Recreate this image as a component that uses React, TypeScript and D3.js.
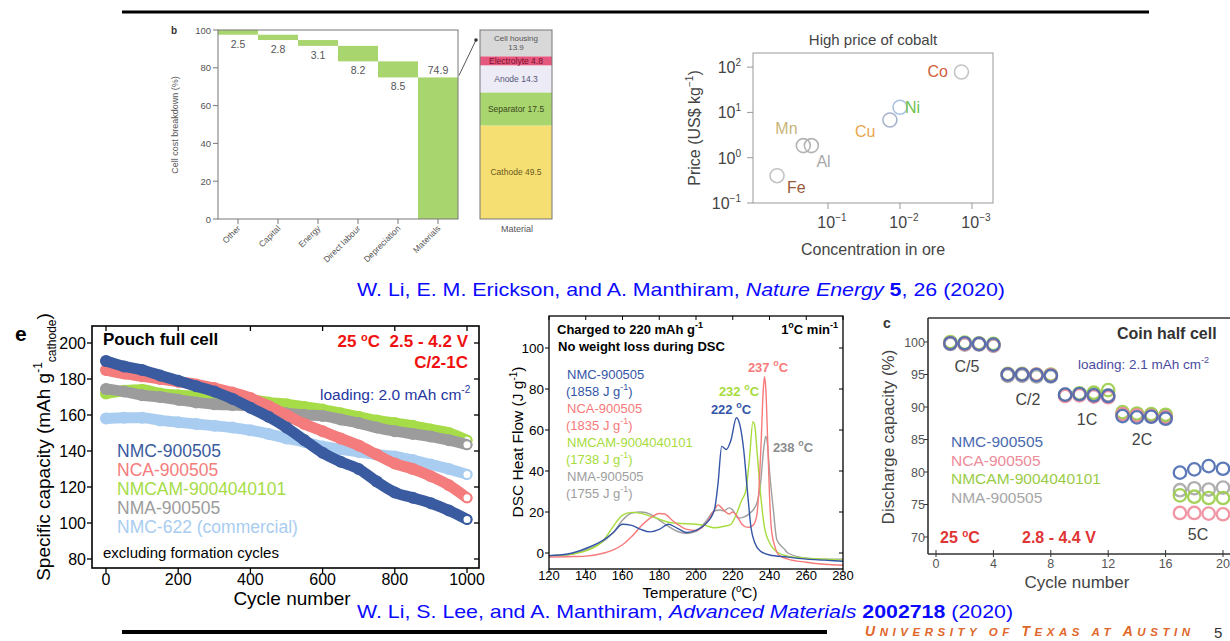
import React from 'react'
import * as d3 from 'd3'

const FONT = 'Liberation Sans, Arial, sans-serif'

// panel b: cell cost breakdown (waterfall) + material split
const costCategories = ['Other', 'Capital', 'Energy', 'Direct labour', 'Depreciation', 'Materials']
const costValues = [2.5, 2.8, 3.1, 8.2, 8.5, 74.9]
const costTicks = [0, 20, 40, 60, 80, 100]
const materialParts = ['Cathode', 'Separator', 'Anode', 'Electrolyte', 'Cell housing']
const materialValues = [49.5, 17.5, 14.3, 4.8, 13.9]

// high price of cobalt
const elements = ['Fe', 'Mn', 'Al', 'Cu', 'Ni', 'Co']
const oreConcentration = [0.51, 0.22, 0.17, 0.0138, 0.01, 0.0014]
const elementPrice = [0.4, 1.85, 1.85, 6.8, 13, 78]
const priceTickExp = [-1, 0, 1, 2]
const concTickExp = [-1, -2, -3]

// panel e: pouch full cell cycling
const pouchCycles = [0, 50, 100, 150, 200, 250, 300, 350, 400, 450, 500, 550, 600, 650, 700, 750, 800, 850, 900, 950, 1000]
const pouchNames = ['NMC-900505', 'NCA-900505', 'NMCAM-9004040101', 'NMA-900505', 'NMC-622 (commercial)']
const pouchNMC = [190, 187, 185, 182, 179, 176, 173, 169, 164, 159, 153, 146, 139, 134, 130, 123, 117, 114, 111, 107, 102]
const pouchNCA = [185, 183, 181.5, 180, 178.5, 177, 175, 172.5, 169.5, 165, 160, 155, 151, 147, 143, 138, 133, 130, 126, 121, 114]
const pouchNMCAM = [172, 173.5, 174, 172, 171, 170.5, 170, 169.5, 168.5, 167, 166, 164.5, 163, 161, 159, 157, 155.5, 154, 152, 150, 146]
const pouchNMA = [174.5, 173, 171, 170, 168.5, 167, 166, 165.5, 165, 163, 161, 160, 159.5, 157.5, 155.5, 153, 151, 149.5, 148, 146, 143.5]
const pouchNMC622 = [158, 158.5, 158.5, 157, 156, 155, 154, 153, 151.5, 149.5, 147, 145, 142.5, 141, 139.5, 138, 137, 135, 132.5, 130, 127]
const pouchXTicks = [0, 200, 400, 600, 800, 1000]
const pouchYTicks = [80, 100, 120, 140, 160, 180, 200]

// DSC heat flow, [temperature, J/g]
const dscNMC = [[120, -1.3], [130, -0.5], [140, 2.2], [150, 6.5], [155, 10], [160, 14], [165, 13.5], [170, 11.5], [175, 10.3], [180, 11.5], [185, 14], [190, 12], [195, 10], [200, 11], [205, 14], [210, 21], [212, 34], [214, 52], [216.5, 50.5], [219, 55], [222, 66], [224, 62], [226, 50], [228, 30], [230, 12], [232, 5], [235, 1], [240, -1], [250, -2], [260, -3], [270, -3.5], [280, -4]]
const dscNCA = [[120, -2], [130, -1.8], [140, -1.5], [150, 0], [155, 1.5], [160, 4], [165, 8], [170, 13], [175, 17], [180, 19.3], [183, 19], [187, 16], [190, 14], [195, 11.5], [200, 11], [205, 14], [210, 21], [212, 23.5], [215, 21], [218, 19], [220, 20], [222, 18.5], [225, 14], [228, 12.5], [231, 13.5], [233, 18], [234.5, 35], [235.5, 55], [236.5, 78], [237.3, 86], [238, 80], [239, 55], [240, 28], [241, 12], [243, 3], [245, -1], [250, -3], [260, -4.5], [270, -5.5], [280, -6]]
const dscNMCAM = [[120, -1.3], [130, -0.8], [140, 1], [150, 6.5], [155, 13], [160, 18.5], [165, 19.8], [170, 19.3], [175, 18], [180, 16.5], [185, 15], [190, 14.5], [200, 14], [205, 13.5], [210, 12.3], [215, 13], [219, 14], [222, 19], [225, 26], [227, 30], [229, 45], [231, 64], [232, 62], [233, 52], [235, 30], [237, 14], [240, 5], [245, 0], [250, -1.5], [260, -2.5], [270, -3], [280, -3.5]]
const dscNMA = [[120, -1.5], [130, -1], [140, 1.5], [150, 6], [155, 10], [160, 16], [165, 19.5], [170, 20], [175, 19], [180, 16], [185, 13], [190, 10.5], [195, 9.5], [200, 10.5], [205, 15], [210, 20.5], [213, 21], [215, 20.5], [218, 22], [220, 21], [223, 17], [226, 17.5], [230, 20], [233, 24], [235, 33], [237, 52], [238, 57], [239, 52], [240, 40], [242, 22], [244, 6.5], [248, 2], [250, 0], [260, -2.5], [270, -3], [280, -3]]
const dscNames = ['NMC-900505', 'NCA-900505', 'NMCAM-9004040101', 'NMA-900505']
const dscEnergy = ['1858', '1835', '1738', '1755']
const dscXTicks = [120, 140, 160, 180, 200, 220, 240, 260, 280]
const dscYTicks = [0, 20, 40, 60, 80, 100]

// panel c: coin half cell rate capability
const coinCycles = [1, 2, 3, 4, 5, 6, 7, 8, 9, 10, 11, 12, 13, 14, 15, 16, 17, 18, 19, 20]
const coinNMC = [99.8, 99.8, 99.7, 99.6, 95, 95, 94.9, 94.8, 91.9, 92, 91.8, 91.7, 88.6, 88.4, 88.5, 88.2, 79.9, 80.4, 80.9, 80.5]
const coinNCA = [99.8, 99.7, 99.7, 99.5, 95, 95, 95, 94.9, 91.7, 91.8, 91.6, 91.5, 88.9, 88.7, 88.6, 88.4, 73.7, 73.7, 73.6, 73.5]
const coinNMCAM = [100, 99.9, 99.8, 99.7, 95.1, 95.1, 95, 95, 91.8, 92.1, 92.2, 92.6, 89.2, 89, 88.9, 88.8, 76.4, 76.2, 76, 76]
const coinNMA = [99.7, 99.6, 99.6, 99.4, 94.8, 94.8, 94.7, 94.7, 91.9, 91.9, 92, 91.8, 88.9, 88.8, 88.8, 88.6, 77.2, 77.5, 77.3, 77.6]
const coinRates = ['C/5', 'C/2', '1C', '2C', '5C']
const coinXTicks = [0, 4, 8, 12, 16, 20]
const coinYTicks = [70, 75, 80, 85, 90, 95, 100]

const MATERIAL_COLORS = ['#f6df72', '#a9d56f', '#ecebf6', '#e5577c', '#d8d8d8']
const ELEMENT_TEXT = ['#9a5a3a', '#c9b57a', '#a9a9a9', '#e8a64e', '#6fbf4e', '#d2603c']
const ELEMENT_RING = ['#c4c4c4', '#b4b4b4', '#b4b4b4', '#a9b2cc', '#a8c2e2', '#c4c4c4']
const ELEMENT_LABEL_OFFSET = [[10, 17], [-28, -12], [5, 21], [-35, 17], [5, 6], [-34, 5]]
const POUCH_COLORS = ['#3a5ba0', '#f47c7c', '#a6dc48', '#9c9c9c', '#a9cdf0']
const DSC_COLORS = ['#3556a6', '#f77a7a', '#a6dc3c', '#9e9e9e']
const COIN_COLORS = ['#4a6ab0', '#ee8b9a', '#9acc48', '#a6a6a6']

function CostBreakdown() {
  const x = d3.scaleBand().domain(costCategories).range([218, 458]).padding(0)
  const y = d3.scaleLinear().domain([0, 100]).range([219, 30])
  let top = 100
  const bars = costValues.map((v, i) => {
    const hi = top
    const lo = Math.max(0, top - v)
    top -= v
    return { cat: costCategories[i], hi, lo, v, last: i === costValues.length - 1 }
  })
  const mx = d3.scaleBand().domain(['Material']).range([480, 552])
  let acc = 0
  const parts = materialValues.map((v, i) => {
    const lo = acc
    acc += v
    return { name: materialParts[i], lo, hi: acc, v, color: MATERIAL_COLORS[i] }
  })
  const partLabelColor = ['#6a5a20', '#3a4a20', '#555577', '#7a1030', '#555']
  return (
    <g fill="#555">
      <text x={171} y={34} fontSize={10} fontWeight="bold" fill="#333">b</text>
      {bars.map((b) => (
        <rect key={b.cat} x={x(b.cat)} width={x.bandwidth()} y={y(b.hi)} height={Math.max(1.5, y(b.lo) - y(b.hi))} fill="#a9d56f" />
      ))}
      {bars.map((b) => (
        <text key={b.cat} x={x(b.cat) + x.bandwidth() / 2} y={b.last ? y(b.hi) - 3 : y(b.lo) + 13} fontSize={10.5} textAnchor="middle" fill="#555">{b.v}</text>
      ))}
      <rect x={218} y={30} width={240} height={189} fill="none" stroke="#777" strokeWidth={1} />
      {costTicks.map((t) => (
        <g key={t}>
          <line x1={213} x2={218} y1={y(t)} y2={y(t)} stroke="#777" />
          <text x={211} y={y(t) + 3.5} fontSize={9.5} textAnchor="end">{t}</text>
        </g>
      ))}
      {costCategories.map((c) => {
        const cx = x(c) + x.bandwidth() / 2
        return (
          <g key={c}>
            <line x1={cx} x2={cx} y1={219} y2={224} stroke="#777" />
            <text transform={`translate(${cx + 3},${229}) rotate(-45)`} fontSize={8.5} textAnchor="end">{c}</text>
          </g>
        )
      })}
      <text transform="translate(178,125) rotate(-90)" fontSize={9} textAnchor="middle">Cell cost breakdown (%)</text>
      {parts.map((p) => (
        <rect key={p.name} x={mx('Material')} width={mx.bandwidth()} y={y(p.hi)} height={y(p.lo) - y(p.hi)} fill={p.color} />
      ))}
      <rect x={480} y={30} width={72} height={189} fill="none" stroke="#777" />
      {parts.map((p, i) => {
        const cy = (y(p.lo) + y(p.hi)) / 2
        if (p.name === 'Cell housing') {
          return (
            <text key={p.name} x={516} y={cy - 2} fontSize={8} textAnchor="middle" fill={partLabelColor[i]}>
              Cell housing<tspan x={516} dy={8.5}>{p.v}</tspan>
            </text>
          )
        }
        return (
          <text key={p.name} x={516} y={cy + 3} fontSize={8.5} textAnchor="middle" fill={partLabelColor[i]}>{`${p.name} ${p.v}`}</text>
        )
      })}
      <line x1={459} y1={y(74.9) - 2} x2={476} y2={40} stroke="#555" strokeWidth={1} />
      <circle cx={476} cy={40} r={1.8} fill="#333" />
      <text x={517} y={232} fontSize={9} textAnchor="middle">Material</text>
    </g>
  )
}

function CobaltPrice() {
  const x = d3.scaleLog().domain([1.1, 5.1e-4]).range([753, 993])
  const y = d3.scaleLog().domain([0.1, 205]).range([203, 53])
  return (
    <g fill="#444">
      <text x={873} y={45} fontSize={15} textAnchor="middle" fill="#444">High price of cobalt</text>
      <rect x={753} y={53} width={240} height={150} fill="none" stroke="#999" />
      {priceTickExp.map((e) => (
        <g key={e}>
          <line x1={747} x2={753} y1={y(10 ** e)} y2={y(10 ** e)} stroke="#999" />
          <text x={741} y={y(10 ** e) + 6} fontSize={16} textAnchor="end">
            10<tspan dy={-7} fontSize={10}>{e < 0 ? `\u2212${-e}` : e}</tspan>
          </text>
        </g>
      ))}
      {concTickExp.map((e) => (
        <g key={e}>
          <line x1={x(10 ** e)} x2={x(10 ** e)} y1={203} y2={209} stroke="#999" />
          <text x={x(10 ** e) + 4} y={228} fontSize={16} textAnchor="middle">
            10<tspan dy={-7} fontSize={10}>{`\u2212${-e}`}</tspan>
          </text>
        </g>
      ))}
      <text x={873} y={255} fontSize={16} textAnchor="middle">Concentration in ore</text>
      <text transform="translate(700,128) rotate(-90)" fontSize={16} textAnchor="middle">
        Price (US$ kg<tspan dy={-7} fontSize={10}>{'\u22121'}</tspan><tspan dy={7}>)</tspan>
      </text>
      {elements.map((el, i) => {
        const px = x(oreConcentration[i])
        const py = y(elementPrice[i])
        return (
          <g key={el}>
            <circle cx={px} cy={py} r={7} fill="none" stroke={ELEMENT_RING[i]} strokeWidth={1.6} />
            <text x={px + ELEMENT_LABEL_OFFSET[i][0]} y={py + ELEMENT_LABEL_OFFSET[i][1]} fontSize={16} fill={ELEMENT_TEXT[i]}>{el}</text>
          </g>
        )
      })}
    </g>
  )
}

function PouchCell() {
  const x = d3.scaleLinear().domain([0, 1000]).range([106, 467])
  const y = d3.scaleLinear().domain([80, 200]).range([559, 343])
  const series = [pouchNMC622, pouchNMCAM, pouchNMA, pouchNCA, pouchNMC]
  const colorIdx = [4, 2, 3, 1, 0]
  const line = d3.line<number>().x((_, i) => x(pouchCycles[i])).y((d) => y(d)).curve(d3.curveMonotoneX)
  const L = 92, R = 479, T = 326, B = 568
  return (
    <g>
      <text x={15} y={341} fontSize={21} fontWeight="bold">e</text>
      {series.map((s, k) => {
        const c = POUCH_COLORS[colorIdx[k]]
        return (
          <g key={k}>
            <path d={line(s) || ''} fill="none" stroke={c} strokeWidth={11} strokeLinecap="round" strokeLinejoin="round" />
            {s.slice(0, -1).map((v, i) => (
              <circle key={i} cx={x(pouchCycles[i])} cy={y(v)} r={6} fill={c} />
            ))}
            <circle cx={x(1000)} cy={y(s[s.length - 1])} r={4.5} fill="#fff" stroke={c} strokeWidth={2} />
          </g>
        )
      })}
      <rect x={L} y={T} width={R - L} height={B - T} fill="none" stroke="#000" strokeWidth={1.6} />
      {pouchYTicks.map((t) => (
        <g key={t}>
          <line x1={L - 5} x2={L} y1={y(t)} y2={y(t)} stroke="#000" strokeWidth={1.3} />
          <line x1={R - 5} x2={R} y1={y(t)} y2={y(t)} stroke="#000" strokeWidth={1.3} />
          <text x={86} y={y(t) + 6} fontSize={16} textAnchor="end">{t}</text>
        </g>
      ))}
      {pouchXTicks.map((t) => (
        <g key={t}>
          <line x1={x(t)} x2={x(t)} y1={B} y2={B + 5} stroke="#000" strokeWidth={1.3} />
          <line x1={x(t)} x2={x(t)} y1={T} y2={T + 5} stroke="#000" strokeWidth={1.3} />
          <text x={x(t)} y={585} fontSize={16} textAnchor="middle">{t}</text>
        </g>
      ))}
      <text x={292} y={605} fontSize={19} textAnchor="middle">Cycle number</text>
      <text transform="translate(50,447) rotate(-90)" fontSize={19} textAnchor="middle">
        Specific capacity (mAh g<tspan dy={-8} fontSize={12}>-1</tspan><tspan dy={14} fontSize={12}>cathode</tspan><tspan dy={-6}>)</tspan>
      </text>
      <text x={103} y={345} fontSize={17} fontWeight="bold">Pouch full cell</text>
      <text x={468} y={347} fontSize={17} fontWeight="bold" fill="#f01010" textAnchor="end">
        25 <tspan dy={-6} fontSize={11}>o</tspan><tspan dy={6}>{'C\u00a0\u00a02.5 - 4.2 V'}</tspan>
      </text>
      <text x={468} y={368} fontSize={17} fontWeight="bold" fill="#f01010" textAnchor="end">C/2-1C</text>
      <text x={320} y={400} fontSize={15.5} fill="#25359f">
        loading: 2.0 mAh cm<tspan dy={-7} fontSize={10}>-2</tspan>
      </text>
      {pouchNames.map((n, i) => (
        <text key={n} x={117} y={457 + i * 19} fontSize={17.5} fill={POUCH_COLORS[i]}>{n}</text>
      ))}
      <text x={103} y={558} fontSize={15}>excluding formation cycles</text>
    </g>
  )
}

function DscCurves() {
  const x = d3.scaleLinear().domain([120, 280]).range([549, 843])
  const y = d3.scaleLinear().domain([0, 100]).range([553, 348])
  const line = d3.line<number[]>().x((d) => x(d[0])).y((d) => y(d[1])).curve(d3.curveMonotoneX)
  const curves = [dscNMA, dscNMCAM, dscNCA, dscNMC]
  const colorIdx = [3, 2, 1, 0]
  const L = 549, R = 843, T = 316, B = 569
  return (
    <g>
      <defs>
        <clipPath id="dscClip"><rect x={L} y={T} width={R - L} height={B - T} /></clipPath>
      </defs>
      <g clipPath="url(#dscClip)">
        {curves.map((c, k) => (
          <path key={k} d={line(c) || ''} fill="none" stroke={DSC_COLORS[colorIdx[k]]} strokeWidth={1.4} />
        ))}
      </g>
      <rect x={L} y={T} width={R - L} height={B - T} fill="none" stroke="#000" strokeWidth={1.3} />
      {dscYTicks.map((t) => (
        <g key={t}>
          <line x1={L - 4} x2={L} y1={y(t)} y2={y(t)} stroke="#000" />
          <line x1={R - 4} x2={R} y1={y(t)} y2={y(t)} stroke="#000" />
          <text x={544} y={y(t) + 5} fontSize={13.5} textAnchor="end">{t}</text>
        </g>
      ))}
      {dscXTicks.map((t) => (
        <g key={t}>
          <line x1={x(t)} x2={x(t)} y1={B} y2={B + 4} stroke="#000" />
          <line x1={x(t)} x2={x(t)} y1={T} y2={T + 4} stroke="#000" />
          <text x={x(t)} y={580} fontSize={13} textAnchor="middle">{t}</text>
        </g>
      ))}
      <text x={700} y={598} fontSize={15} textAnchor="middle">
        Temperature (<tspan dy={-6} fontSize={10}>o</tspan><tspan dy={6}>C)</tspan>
      </text>
      <text transform="translate(523,442) rotate(-90)" fontSize={15.5} textAnchor="middle">
        DSC Heat Flow (J g<tspan dy={-6} fontSize={10}>-1</tspan><tspan dy={6}>)</tspan>
      </text>
      <text x={557} y={334} fontSize={13} fontWeight="bold">
        Charged to 220 mAh g<tspan dy={-6} fontSize={9}>-1</tspan>
      </text>
      <text x={558} y={351} fontSize={13} fontWeight="bold">No weight loss during DSC</text>
      <text x={838} y={334} fontSize={13} fontWeight="bold" textAnchor="end">
        1<tspan dy={-6} fontSize={9}>o</tspan><tspan dy={6}>C min</tspan><tspan dy={-6} fontSize={9}>-1</tspan>
      </text>
      {dscNames.map((n, i) => (
        <g key={n} fill={DSC_COLORS[i]} fontSize={13}>
          <text x={567} y={379 + i * 34}>{n}</text>
          <text x={566} y={396 + i * 34}>
            ({dscEnergy[i]} J g<tspan dy={-6} fontSize={9}>-1</tspan><tspan dy={6}>)</tspan>
          </text>
        </g>
      ))}
      <text x={768} y={372} fontSize={13} fontWeight="bold" fill={DSC_COLORS[1]} textAnchor="middle">
        237 <tspan dy={-6} fontSize={9}>o</tspan><tspan dy={6}>C</tspan>
      </text>
      <text x={739} y={396} fontSize={13} fontWeight="bold" fill={DSC_COLORS[2]} textAnchor="middle">
        232 <tspan dy={-6} fontSize={9}>o</tspan><tspan dy={6}>C</tspan>
      </text>
      <text x={731} y={414} fontSize={13} fontWeight="bold" fill={DSC_COLORS[0]} textAnchor="middle">
        222 <tspan dy={-6} fontSize={9}>o</tspan><tspan dy={6}>C</tspan>
      </text>
      <text x={793} y={452} fontSize={13} fill="#8c8c8c" fontWeight="bold" textAnchor="middle">
        238 <tspan dy={-6} fontSize={9}>o</tspan><tspan dy={6}>C</tspan>
      </text>
    </g>
  )
}

function CoinCell() {
  const x = d3.scaleLinear().domain([0, 20]).range([936, 1223])
  const y = d3.scaleLinear().domain([70, 100]).range([537, 342])
  const series = [coinNMA, coinNMCAM, coinNCA, coinNMC]
  const colorIdx = [3, 2, 1, 0]
  const names = ['NMC-900505', 'NCA-900505', 'NMCAM-9004040101', 'NMA-900505']
  const rateLabelPos = [[967, 372], [1028, 405], [1087, 425], [1142, 445], [1198, 540]]
  const L = 928, T = 318, B = 554
  return (
    <g fill="#333">
      {series.map((s, k) => (
        <g key={k}>
          {s.map((v, i) => (
            <circle key={i} cx={x(coinCycles[i])} cy={y(v)} r={6.2} fill="none" stroke={COIN_COLORS[colorIdx[k]]} strokeWidth={2.3} opacity={0.9} />
          ))}
        </g>
      ))}
      <line x1={L} x2={1240} y1={T} y2={T} stroke="#333" strokeWidth={1.6} />
      <line x1={L} x2={1240} y1={B} y2={B} stroke="#333" strokeWidth={1.6} />
      <line x1={L} x2={L} y1={T} y2={B} stroke="#333" strokeWidth={1.6} />
      {coinYTicks.map((t) => (
        <g key={t}>
          <line x1={L - 4} x2={L} y1={y(t)} y2={y(t)} stroke="#333" />
          <text x={925} y={y(t) + 4.5} fontSize={12.5} textAnchor="end" fill="#555">{t}</text>
        </g>
      ))}
      {coinXTicks.map((t) => (
        <g key={t}>
          <line x1={x(t)} x2={x(t)} y1={B - 4} y2={B + 3} stroke="#333" />
          <text x={x(t)} y={568} fontSize={12.5} textAnchor="middle" fill="#555">{t}</text>
        </g>
      ))}
      <text x={883} y={328} fontSize={14} fontWeight="bold">c</text>
      <text x={1117} y={339} fontSize={16} fontWeight="bold">Coin half cell</text>
      <text x={1078} y={369} fontSize={13.5} fill="#4a4aa0">
        loading: 2.1 mAh cm<tspan dy={-6} fontSize={9}>-2</tspan>
      </text>
      {coinRates.map((r, i) => (
        <text key={r} x={rateLabelPos[i][0]} y={rateLabelPos[i][1]} fontSize={16} textAnchor="middle" fill="#444">{r}</text>
      ))}
      {names.map((n, i) => (
        <text key={n} x={951} y={447 + i * 18.7} fontSize={15.5} fill={COIN_COLORS[i]}>{n}</text>
      ))}
      <text x={940} y={543} fontSize={16} fontWeight="bold" fill="#e03535">
        25 <tspan dy={-6} fontSize={10}>o</tspan><tspan dy={6}>C</tspan>
      </text>
      <text x={1022} y={543} fontSize={16} fontWeight="bold" fill="#e03535">2.8 - 4.4 V</text>
      <text x={1077} y={588} fontSize={17} textAnchor="middle" fill="#444">Cycle number</text>
      <text transform="translate(894,437) rotate(-90)" fontSize={17} textAnchor="middle" fill="#444">Discharge capacity (%)</text>
    </g>
  )
}

export default function App() {
  return (
    <svg width={1230} height={641} style={{ position: 'fixed', left: 0, top: 0 }} fontFamily={FONT}>
      <rect width={1230} height={641} fill="#fff" />
      <line x1={122} x2={1149} y1={12} y2={12} stroke="#000" strokeWidth={3} />
      <CostBreakdown />
      <CobaltPrice />
      <text x={357} y={296} fontSize={19} fill="#0a0aff" textLength={648} lengthAdjust="spacingAndGlyphs">
        W. Li, E. M. Erickson, and A. Manthiram, <tspan fontStyle="italic">Nature Energy</tspan> <tspan fontWeight="bold">5</tspan>, 26 (2020)
      </text>
      <PouchCell />
      <DscCurves />
      <CoinCell />
      <text x={357} y={618} fontSize={18.5} fill="#0a0aff" textLength={656} lengthAdjust="spacingAndGlyphs">
        W. Li, S. Lee, and A. Manthiram, <tspan fontStyle="italic">Advanced Materials</tspan> <tspan fontWeight="bold">2002718</tspan> (2020)
      </text>
      <line x1={122} x2={827} y1={632} y2={632} stroke="#000" strokeWidth={4} />
      <text x={865} y={636} fill="#e0662a" fontWeight="bold" fontStyle="italic" fontSize={11.5} textLength={325} lengthAdjust="spacing">
        <tspan fontSize={14}>U</tspan>NIVERSITY OF <tspan fontSize={14}>T</tspan>EXAS AT <tspan fontSize={14}>A</tspan>USTIN
      </text>
      <text x={1214} y={638} fontSize={15} fill="#333">5</text>
    </svg>
  )
}
